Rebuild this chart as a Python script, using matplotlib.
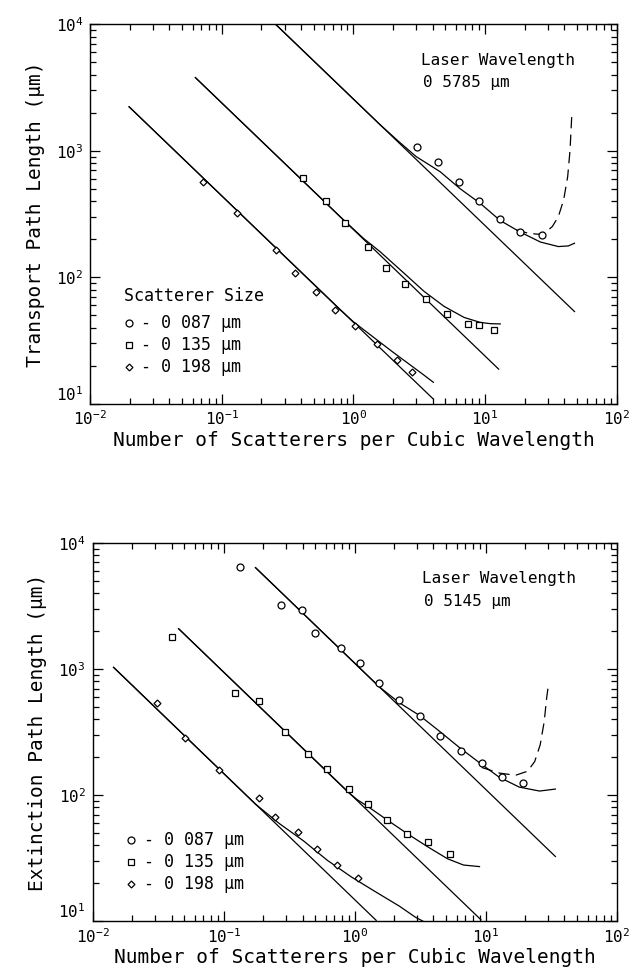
import matplotlib
matplotlib.use('Agg')
import matplotlib.pyplot as plt
from matplotlib.ticker import LogLocator, NullFormatter, FixedLocator, FixedFormatter

plt.rcParams['font.family'] = ['DejaVu Sans Mono', 'DejaVu Sans']

# ---------------- top panel: transport path length, 0.5785 um ----------------
top_x_087 = [3.03, 4.43, 6.3, 9.0, 13.0, 18.5, 26.9]
top_y_087 = [1076, 815, 570, 399, 290, 228, 215]
top_x_135 = [0.413, 0.617, 0.857, 1.29, 1.77, 2.47, 3.54, 5.17, 7.4, 9.06, 11.7]
top_y_135 = [610, 399, 271, 174, 119, 88, 67, 51.5, 43, 42, 38.3]
top_x_198 = [0.0715, 0.1306, 0.260, 0.357, 0.517, 0.729, 1.03, 1.51, 2.15, 2.79]
top_y_198 = [570, 321, 163, 109, 76, 55, 41.5, 29.7, 22.1, 17.9]

# straight (independent scattering) lines, end points
top_line_087 = ([0.2566, 47.9], [10000, 53.6])
top_line_135 = ([0.063, 12.7], [3793, 18.8])
top_line_198 = ([0.01976, 4.05], [2229, 10.9])

# curves with correlated scattering
top_curve_087 = ([0.2566, 1.59, 2.2, 3.0, 4.56, 6.5, 9.18, 13.06, 18.5, 26.4, 36.1, 43.0, 47.9],
                 [10000, 1614, 1190, 900, 684, 500, 385, 281, 228, 190, 175, 177, 186])
top_dash_087 = ([17.3, 21.3, 25.4, 29.3, 32.5, 36.1, 39.6, 42.5, 44.3, 45.6],
                [237, 223, 219, 230, 252, 302, 409, 625, 1014, 1858])
top_curve_135 = ([0.063, 0.845, 1.2, 1.59, 2.42, 3.44, 4.89, 6.93, 9.19, 11.0, 13.06],
                 [3793, 283, 202, 160, 108, 77.5, 58.9, 48.2, 44.0, 43.0, 42.8])
top_curve_198 = ([0.01976, 0.787, 1.0, 1.29, 1.96, 2.79, 3.4, 4.05],
                 [2229, 55.9, 44.5, 36.3, 26.0, 19.8, 17.0, 14.8])

# ---------------- bottom panel: extinction path length, 0.5145 um ----------------
bot_x_087 = [0.133, 0.272, 0.398, 0.502, 0.782, 1.10, 1.54, 2.17, 3.15, 4.50, 6.49, 9.35, 13.4, 19.3]
bot_y_087 = [6490, 3220, 2946, 1946, 1483, 1117, 778, 565, 426, 297, 223, 180, 139, 125]
bot_x_135 = [0.0405, 0.123, 0.1875, 0.296, 0.442, 0.611, 0.912, 1.26, 1.78, 2.51, 3.65, 5.30]
bot_y_135 = [1808, 649, 558, 319, 212, 161, 113, 85.9, 63.6, 49.0, 42.9, 34.4]
bot_x_198 = [0.0308, 0.0508, 0.0916, 0.185, 0.248, 0.371, 0.516, 0.739, 1.07]
bot_y_198 = [542, 286, 158, 94.4, 67.4, 50.8, 37.8, 27.8, 21.9]

bot_line_087 = ([0.175, 34.1], [6370, 32.7])
bot_line_135 = ([0.0453, 9.22], [2089, 10.3])
bot_line_198 = ([0.01443, 1.46], [1033, 10.2])

bot_curve_087 = ([0.175, 1.545, 2.20, 3.12, 4.44, 6.31, 8.98, 12.7, 18.1, 25.8, 34.1],
                 [6370, 722, 540, 430, 322, 239, 181, 139, 116, 108, 112])
bot_dash_087 = ([9.35, 12.7, 16.9, 20.9, 23.7, 26.1, 28.0, 29.2, 30.1],
                [166, 150, 144, 155, 185, 251, 382, 582, 741])
bot_curve_135 = ([0.0453, 0.881, 1.05, 1.25, 1.78, 2.53, 3.59, 5.11, 6.77, 8.98],
                 [2089, 107, 92, 82, 63.5, 49.5, 39.2, 31.4, 28.0, 27.2])
bot_curve_198 = ([0.01443, 0.175, 0.267, 0.407, 0.619, 0.945, 1.44, 2.20, 2.91, 3.35],
                 [1033, 85, 59.5, 43.5, 30.5, 22.5, 17.2, 13.2, 10.8, 10.0])

sizes = ['0 087 \u00b5m', '0 135 \u00b5m', '0 198 \u00b5m']
x_ticks = [0.01, 0.1, 1, 10, 100]
x_tick_labels = [r'$\mathregular{10^{-2}}$', r'$\mathregular{10^{-1}}$', r'$\mathregular{10^{0}}$',
                 r'$\mathregular{10^{1}}$', r'$\mathregular{10^{2}}$']
y_ticks = [10, 100, 1000, 10000]
y_tick_labels = [r'$\mathregular{10^{1}}$', r'$\mathregular{10^{2}}$', r'$\mathregular{10^{3}}$',
                 r'$\mathregular{10^{4}}$']

LW = 0.9
MS = 5


def draw_panel(ax, pts, lines, curves, dash, ylabel, wavelength, legend_title):
    ax.set_xscale('log')
    ax.set_yscale('log')
    ax.set_xlim(0.01, 100)
    ax.set_ylim(10, 10000)

    for lx, ly in lines:
        ax.plot(lx, ly, color='black', lw=LW)
    for cx, cy in curves:
        ax.plot(cx, cy, color='black', lw=LW)
    ax.plot(dash[0], dash[1], color='black', lw=LW, dashes=(9, 5))

    markers = ['o', 's', 'D']
    msizes = [MS, MS, MS - 1.5]
    for (px, py), m, s in zip(pts, markers, msizes):
        ax.plot(px, py, linestyle='none', marker=m, ms=s, mfc='white', mec='black', mew=0.9)

    # ticks inward on all four sides
    ax.xaxis.set_major_locator(FixedLocator(x_ticks))
    ax.xaxis.set_major_formatter(FixedFormatter(x_tick_labels))
    ax.yaxis.set_major_locator(FixedLocator(y_ticks))
    ax.yaxis.set_major_formatter(FixedFormatter(y_tick_labels))
    ax.xaxis.set_minor_locator(LogLocator(base=10, subs=range(2, 10)))
    ax.yaxis.set_minor_locator(LogLocator(base=10, subs=range(2, 10)))
    ax.xaxis.set_minor_formatter(NullFormatter())
    ax.yaxis.set_minor_formatter(NullFormatter())
    ax.tick_params(which='both', direction='in', top=True, right=True, width=0.9)
    ax.tick_params(which='major', length=7, labelsize=11.5)
    ax.tick_params(axis='x', which='major', pad=4)
    ax.tick_params(axis='y', which='major', pad=5)
    ax.tick_params(which='minor', length=4)
    ylabs = ax.get_yticklabels()
    for lab in ylabs:
        lab.set_va('center_baseline')
    # lowest y label sits just above the corner so it clears the 10^-2 label
    ylabs[0].set_va('bottom')
    for sp in ax.spines.values():
        sp.set_linewidth(1.0)

    ax.set_xlabel('Number of Scatterers per Cubic Wavelength', fontsize=14, labelpad=2)
    ax.set_ylabel(ylabel, fontsize=14, labelpad=8)

    ax.text(0.628, 0.905, 'Laser Wavelength', transform=ax.transAxes, fontsize=11.5, va='center')
    ax.text(0.632, 0.846, wavelength, transform=ax.transAxes, fontsize=11.5, va='center')

    # legend drawn as text, as in the original
    if legend_title:
        ax.text(0.065, 0.285, legend_title, transform=ax.transAxes, fontsize=12, va='center')
    rows = [0.214, 0.156, 0.098]
    for m, s, lab, yy in zip(markers, msizes, sizes, rows):
        ax.plot([0.073], [yy], transform=ax.transAxes, marker=m, ms=s, mfc='white',
                mec='black', mew=0.9, linestyle='none', clip_on=False)
        ax.text(0.097, yy, '- ' + lab, transform=ax.transAxes, fontsize=12, va='center')


fig = plt.figure(figsize=(6.35, 9.73), dpi=100)

ax1 = fig.add_axes([0.142, 0.585, 0.829, 0.390])
draw_panel(ax1,
           [(top_x_087, top_y_087), (top_x_135, top_y_135), (top_x_198, top_y_198)],
           [top_line_087, top_line_135, top_line_198],
           [top_curve_087, top_curve_135, top_curve_198],
           top_dash_087,
           'Transport Path Length (\u00b5m)', '0 5785 \u00b5m', 'Scatterer Size')

ax2 = fig.add_axes([0.146, 0.053, 0.825, 0.389])
draw_panel(ax2,
           [(bot_x_087, bot_y_087), (bot_x_135, bot_y_135), (bot_x_198, bot_y_198)],
           [bot_line_087, bot_line_135, bot_line_198],
           [bot_curve_087, bot_curve_135, bot_curve_198],
           bot_dash_087,
           'Extinction Path Length (\u00b5m)', '0 5145 \u00b5m', None)

fig.savefig('out.png', dpi=100)
